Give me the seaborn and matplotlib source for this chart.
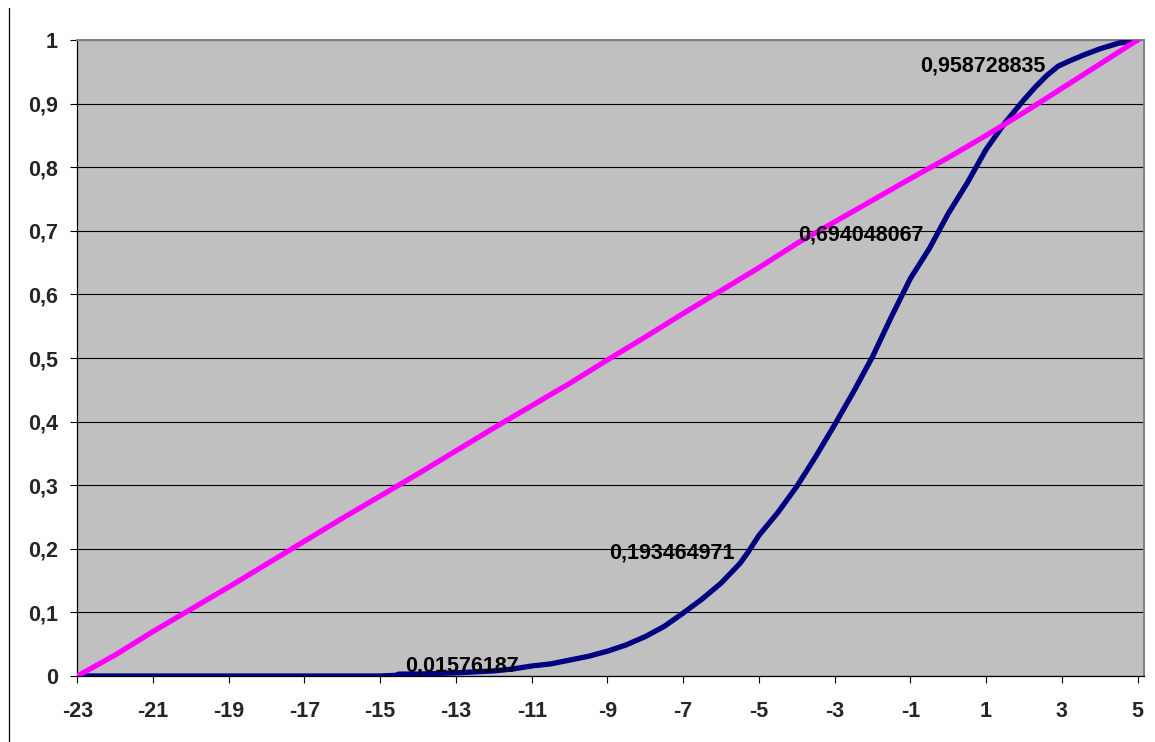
import matplotlib
matplotlib.use("Agg")
import matplotlib.pyplot as plt
import pandas as pd
import seaborn as sns
from matplotlib.lines import Line2D

# Uniform reference distribution (empirical CDF)
uniform_x = list(range(-23, 6))
uniform_cdf = [0.0, 0.033, 0.070, 0.105, 0.140, 0.176, 0.212, 0.248, 0.283, 0.318,
               0.354, 0.390, 0.425, 0.460, 0.497, 0.533, 0.570, 0.606, 0.642, 0.680,
               0.714, 0.748, 0.782, 0.815, 0.850, 0.886, 0.924, 0.962, 1.0]

# Model distribution (empirical CDF)
model_x = [-23, -15, -14.6, -14.5, -14, -13, -12, -11.5, -11, -10.5, -10, -9.5, -9,
           -8.5, -8, -7.5, -7, -6.5, -6, -5.5, -5.3, -5, -4.5, -4, -3.5, -3, -2.5,
           -2, -1.5, -1, -0.5, -0.3, 0, 0.5, 1, 1.5, 2, 2.3, 2.6, 2.9, 3.2, 3.6,
           4, 4.5, 5]
model_cdf = [0.0, 0.0, 0.001, 0.003, 0.003, 0.005, 0.008, 0.011, 0.01576187, 0.019,
             0.025, 0.031, 0.039, 0.049, 0.062, 0.078, 0.099, 0.121, 0.146, 0.177,
             0.193464971, 0.221, 0.257, 0.298, 0.345, 0.395, 0.447, 0.502, 0.565,
             0.625, 0.672, 0.694048067, 0.727, 0.775, 0.828, 0.870, 0.906, 0.926,
             0.944, 0.958728835, 0.967, 0.977, 0.986, 0.995, 1.0]

# Points whose values are written next to the curve
label_x = [-11, -5.3, -0.3, 2.9]

x_ticks = list(range(-23, 6, 2))
y_ticks = [0, 0.1, 0.2, 0.3, 0.4, 0.5, 0.6, 0.7, 0.8, 0.9, 1]

sns.set_style("white")
plt.rcParams["font.family"] = ["Liberation Sans", "DejaVu Sans"]
plt.rcParams["font.weight"] = "bold"

FS = 15.5

fig = plt.figure(figsize=(11.55, 7.42), dpi=100)
ax = fig.add_axes([77.3 / 1155, 1 - 676 / 742, (1144 - 77.3) / 1155, (676 - 40) / 742])
ax.set_facecolor("#C0C0C0")

model_df = pd.DataFrame({"x": model_x, "cdf": model_cdf})
uniform_df = pd.DataFrame({"x": uniform_x, "cdf": uniform_cdf})

sns.lineplot(data=model_df, x="x", y="cdf", ax=ax, color="#000080", lw=3.8,
             solid_capstyle="round", solid_joinstyle="round", zorder=3)
sns.lineplot(data=uniform_df, x="x", y="cdf", ax=ax, color="#FF00FF", lw=3.8,
             solid_capstyle="round", solid_joinstyle="round", zorder=4)

lookup = dict(zip(model_x, model_cdf))
for lx in label_x:
    v = lookup[lx]
    ax.annotate(f"{v:.9g}".replace(".", ","), xy=(lx, v), xytext=(-13, 0),
                textcoords="offset pixels", ha="right", va="center",
                fontsize=FS, fontweight="bold", color="black", zorder=5)

ax.set_xlim(-23, 5.17)
ax.set_ylim(0, 1.0)
ax.set_xticks(x_ticks)
ax.set_xticklabels([str(t) for t in x_ticks])
ax.set_yticks(y_ticks)
ax.set_yticklabels([f"{t:g}".replace(".", ",") for t in y_ticks])
ax.set_xlabel("")
ax.set_ylabel("")

ax.yaxis.grid(True, color="black", lw=0.8)
ax.xaxis.grid(False)
ax.set_axisbelow(True)

ax.tick_params(axis="both", direction="out", length=5, width=0.8, color="black",
               labelsize=FS)
ax.tick_params(axis="x", pad=13, bottom=True)
ax.tick_params(axis="y", pad=9, left=True)
for lab in ax.get_xticklabels() + ax.get_yticklabels():
    lab.set_fontweight("bold")

for side in ("top", "right"):
    ax.spines[side].set_color("#808080")
    ax.spines[side].set_linewidth(1.4)
for side in ("left", "bottom"):
    ax.spines[side].set_color("black")
    ax.spines[side].set_linewidth(0.9)

fig.add_artist(Line2D([8.5 / 1155, 8.5 / 1155], [0, 1 - 8 / 742],
                      transform=fig.transFigure, color="black", lw=0.9))

fig.savefig("out.png", dpi=100)
